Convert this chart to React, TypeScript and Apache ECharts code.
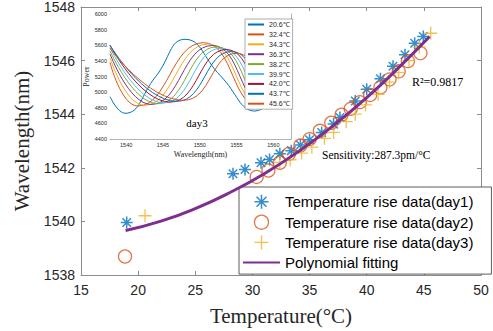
import React, { useEffect, useRef } from "react";
import * as echarts from "echarts";

// ---- main chart data (Temperature °C, Wavelength nm) ----
const day1Data: number[][] = [
  [19.0, 1539.96], [28.3, 1541.78], [29.35, 1541.94], [30.75, 1542.19], [31.5, 1542.31],
  [32.4, 1542.52], [33.4, 1542.64], [34.2, 1542.85], [35.0, 1543.05], [36.06, 1543.32],
  [37.1, 1543.63], [37.66, 1543.88], [39.0, 1544.49], [40.0, 1544.93], [41.2, 1545.32],
  [42.3, 1545.79], [43.35, 1546.22], [44.2, 1546.65], [44.95, 1546.9],
];
const day2Data: number[][] = [
  [18.85, 1538.69], [30.37, 1541.66], [31.4, 1541.9], [32.4, 1542.19], [33.2, 1542.52],
  [34.2, 1542.83], [35.0, 1543.07], [35.9, 1543.38], [36.9, 1543.68], [37.8, 1543.98],
  [38.6, 1544.2], [39.4, 1544.45], [40.3, 1544.72], [41.2, 1545.0], [42.0, 1545.3],
  [42.8, 1545.6], [43.6, 1545.98], [44.7, 1546.28],
];
const day3Data: number[][] = [
  [20.6, 1540.21], [32.4, 1542.2], [33.3, 1542.3], [34.3, 1542.55], [35.2, 1542.77],
  [36.3, 1543.1], [37.1, 1543.32], [38.2, 1543.72], [39.0, 1544.0], [39.9, 1544.35],
  [41.0, 1544.74], [42.0, 1545.2], [42.8, 1545.55], [43.7, 1546.0], [44.6, 1546.5],
  [45.6, 1547.02],
];
const fitData: number[][] = [
  [18.9, 1539.66], [22, 1540.01], [25, 1540.48], [28, 1541.07], [31, 1541.77],
  [34, 1542.6], [37, 1543.55], [40, 1544.62], [43, 1545.82], [45.5, 1546.9],
];

// ---- inset spectra (Wavelength nm, Power) ----
const spectrumNames = ["20.6℃", "32.4℃", "34.3℃", "36.3℃", "38.2℃", "39.9℃", "42.0℃", "43.7℃", "45.6℃"];
const spectrumColors = ["#0072BD", "#D95319", "#EDB120", "#7E2F8E", "#77AC30", "#4DBEEE", "#A2142F", "#0072BD", "#D95319"];
const spec206 = [[1537.8, 4942], [1539.84, 4729], [1544.0, 5198], [1548.0, 5676], [1552.8, 5210], [1557.5, 4758], [1562.4, 5454]];
const spec324 = [[1537.8, 5380], [1541.6, 4822], [1550.5, 5633], [1558.5, 4800], [1562.4, 5060]];
const spec343 = [[1537.8, 5440], [1542.5, 4832], [1551.1, 5615], [1558.9, 4800], [1562.4, 5030]];
const spec363 = [[1537.8, 5490], [1543.4, 4842], [1551.7, 5597], [1559.3, 4805], [1562.4, 5000]];
const spec382 = [[1537.8, 5530], [1544.3, 4852], [1552.3, 5580], [1559.7, 4810], [1562.4, 4970]];
const spec399 = [[1537.8, 5570], [1545.1, 4862], [1552.9, 5562], [1560.1, 4815], [1562.4, 4940]];
const spec420 = [[1537.8, 5600], [1546.0, 4872], [1553.6, 5545], [1560.5, 4820], [1562.4, 4915]];
const spec437 = [[1537.8, 5600], [1546.9, 4882], [1554.3, 5520], [1561.0, 4830], [1562.4, 4885]];
const spec456 = [[1537.8, 5560], [1547.8, 4895], [1555.0, 5497], [1561.6, 4840], [1562.4, 4860]];
const spectra = [spec206, spec324, spec343, spec363, spec382, spec399, spec420, spec437, spec456];

const insetXTicks = [1540, 1545, 1550, 1555, 1560];

const STAR = "path://M5,0L5,10M0,5L10,5M1.46,1.46L8.54,8.54M1.46,8.54L8.54,1.46";
const PLUS = "path://M5,0L5,10M0,5L10,5";

const SANS = "Liberation Sans";
const SERIF = "Liberation Serif";
const AXIS = "#8c8c8c";
const TXT = "#262626";
const plain = (v: number) => String(v);

export default function App() {
  const ref = useRef<HTMLDivElement>(null);
  useEffect(() => {
    if (!ref.current) return;
    const chart = echarts.init(ref.current, undefined, { renderer: "svg" });
    const mainAxisCommon = {
      axisLine: { show: true, lineStyle: { color: AXIS, width: 1 } },
      axisTick: { show: true, inside: true, length: 4, lineStyle: { color: AXIS } },
      splitLine: { show: false },
    };
    const insetAxisCommon = {
      axisLine: { show: true, lineStyle: { color: "#a0a0a0", width: 0.8 } },
      axisTick: { show: true, inside: true, length: 2, lineStyle: { color: "#a0a0a0", width: 0.6 } },
      splitLine: { show: false },
    };
    const option: any = {
      animation: false,
      backgroundColor: "#fff",
      grid: [
        { left: 81, top: 7, width: 400, height: 270 },
        { left: 110, top: 14, width: 181, height: 125, show: true, backgroundColor: "#fff", borderWidth: 0, z: 3 },
      ],
      xAxis: [
        {
          gridIndex: 0, type: "value", min: 15, max: 50, interval: 5, position: "bottom",
          ...mainAxisCommon,
          axisLabel: { color: TXT, fontSize: 14, fontFamily: SANS, margin: 8, formatter: plain },
          name: "Temperature(°C)", nameLocation: "middle", nameGap: 30,
          nameTextStyle: { fontFamily: SERIF, fontSize: 21, color: TXT },
        },
        {
          gridIndex: 0, type: "value", min: 15, max: 50, interval: 5, position: "top",
          ...mainAxisCommon, axisLabel: { show: false },
        },
        {
          gridIndex: 1, type: "value", min: 1537.8, max: 1562.4, position: "bottom",
          ...insetAxisCommon,
          axisTick: { ...insetAxisCommon.axisTick, customValues: insetXTicks },
          axisLabel: { customValues: insetXTicks, color: TXT, fontSize: 5.5, fontFamily: SANS, margin: 3, formatter: plain },
          name: "Wavelength(nm)", nameLocation: "middle", nameGap: 11,
          nameTextStyle: { fontFamily: SERIF, fontSize: 8, color: TXT },
        },
        {
          gridIndex: 1, type: "value", min: 1537.8, max: 1562.4, position: "top",
          ...insetAxisCommon,
          axisTick: { ...insetAxisCommon.axisTick, customValues: insetXTicks },
          axisLabel: { show: false },
        },
      ],
      yAxis: [
        {
          gridIndex: 0, type: "value", min: 1538, max: 1548, interval: 2, position: "left",
          ...mainAxisCommon,
          axisLabel: { color: TXT, fontSize: 14, fontFamily: SANS, margin: 6, formatter: plain },
          name: "Wavelength(nm)", nameLocation: "middle", nameGap: 41,
          nameTextStyle: { fontFamily: SERIF, fontSize: 21, color: TXT },
        },
        {
          gridIndex: 0, type: "value", min: 1538, max: 1548, interval: 2, position: "right",
          ...mainAxisCommon, axisLabel: { show: false },
        },
        {
          gridIndex: 1, type: "value", min: 4400, max: 6000, interval: 200, position: "left",
          ...insetAxisCommon,
          axisLabel: { color: TXT, fontSize: 5.5, fontFamily: SANS, margin: 3, formatter: plain },
          name: "Power", nameLocation: "middle", nameGap: 18,
          nameTextStyle: { fontFamily: SERIF, fontSize: 8, color: TXT },
        },
        {
          gridIndex: 1, type: "value", min: 4400, max: 6000, interval: 200, position: "right",
          ...insetAxisCommon, axisLabel: { show: false },
        },
      ],
      legend: [
        {
          orient: "vertical", left: 239, top: 187, itemWidth: 37, itemHeight: 14, itemGap: 5,
          padding: [7, 18, 4, 3], borderColor: "#333", borderWidth: 0.8, backgroundColor: "#fff",
          selectedMode: false,
          textStyle: { fontFamily: SANS, fontSize: 15, color: "#000" },
          data: [
            { name: "Temperature rise data(day1)", icon: STAR, itemStyle: { color: "rgba(0,0,0,0)", borderColor: "#0072BD", borderWidth: 1.5 } },
            { name: "Temperature rise data(day2)", icon: "circle", itemStyle: { color: "rgba(0,0,0,0)", borderColor: "#D95319", borderWidth: 1.3 } },
            { name: "Temperature rise data(day3)", icon: PLUS, itemStyle: { color: "rgba(0,0,0,0)", borderColor: "#EDB120", borderWidth: 1.3 } },
            { name: "Polynomial fitting", itemStyle: { opacity: 0 } },
          ],
        },
        {
          orient: "vertical", left: 245, top: 19, itemWidth: 16, itemHeight: 6, itemGap: 2.9,
          padding: [2, 3, 2, 2], borderColor: "#777", borderWidth: 0.6, backgroundColor: "#fff",
          selectedMode: false, z: 6,
          itemStyle: { opacity: 0 },
          textStyle: { fontFamily: SANS, fontSize: 7, color: TXT },
          data: spectrumNames,
        },
      ],
      graphic: [
        { type: "text", x: 412, y: 82, z: 10, style: { text: "R²=0.9817", fontFamily: SERIF, fontSize: 12, fill: "#000", verticalAlign: "middle" } },
        { type: "text", x: 322, y: 155, z: 10, style: { text: "Sensitivity:287.3pm/°C", fontFamily: SERIF, fontSize: 11.5, fill: "#000", verticalAlign: "middle" } },
        { type: "text", x: 197, y: 123, z: 10, style: { text: "day3", fontFamily: SERIF, fontSize: 11, fill: "#000", align: "center", verticalAlign: "middle" } },
      ],
      series: [
        {
          name: "Temperature rise data(day1)", type: "scatter", xAxisIndex: 0, yAxisIndex: 0,
          data: day1Data, symbol: STAR, symbolSize: 12,
          itemStyle: { color: "rgba(0,0,0,0)", borderColor: "#0072BD", borderWidth: 1.5 },
        },
        {
          name: "Temperature rise data(day2)", type: "scatter", xAxisIndex: 0, yAxisIndex: 0,
          data: day2Data, symbol: "circle", symbolSize: 13,
          itemStyle: { color: "rgba(0,0,0,0)", borderColor: "#D95319", borderWidth: 1.3 },
        },
        {
          name: "Temperature rise data(day3)", type: "scatter", xAxisIndex: 0, yAxisIndex: 0,
          data: day3Data, symbol: PLUS, symbolSize: 13,
          itemStyle: { color: "rgba(0,0,0,0)", borderColor: "#EDB120", borderWidth: 1.3 },
        },
        {
          name: "Polynomial fitting", type: "line", xAxisIndex: 0, yAxisIndex: 0,
          data: fitData, smooth: true, symbol: "none", z: 4,
          lineStyle: { color: "#7E2F8E", width: 3 }, itemStyle: { color: "#7E2F8E" },
        },
        ...spectra.map((d, i) => ({
          name: spectrumNames[i], type: "line", xAxisIndex: 2, yAxisIndex: 2,
          data: d, smooth: true, symbol: "none", z: 4,
          lineStyle: { color: spectrumColors[i], width: 1 }, itemStyle: { color: spectrumColors[i] },
        })),
      ],
    };
    chart.setOption(option);
    return () => chart.dispose();
  }, []);
  return <div ref={ref} style={{ width: 493, height: 331, position: "absolute", left: 0, top: 0 }} />;
}
